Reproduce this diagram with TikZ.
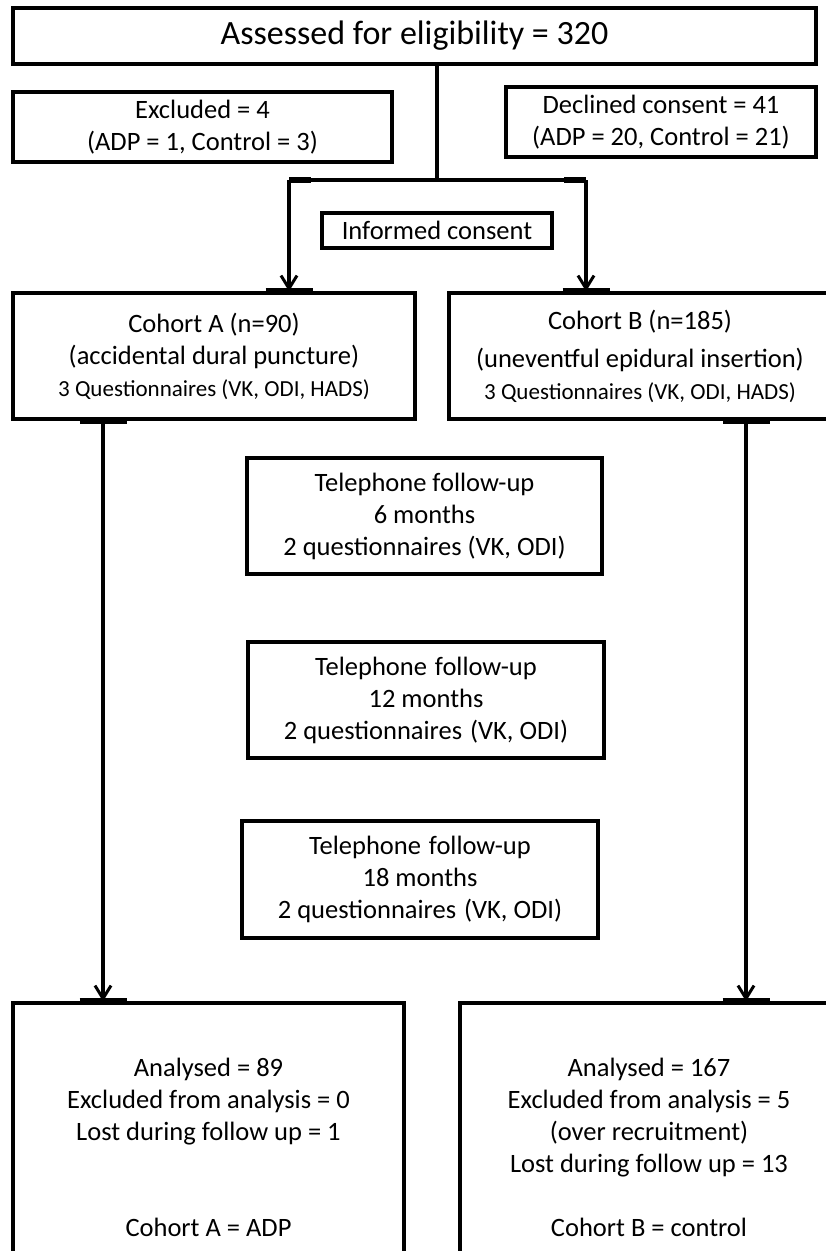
\documentclass[tikz,border=0pt]{standalone}
\usepackage{fontspec}
\setmainfont{Carlito}
\usetikzlibrary{arrows.meta,positioning}

\newcommand\qsize{\fontsize{23}{29}\selectfont}

\tikzset{
  box/.style={draw, line width=3.2pt, rectangle, align=center, inner sep=0pt,
    font=\fontsize{26.5}{32}\selectfont},
  link/.style={line width=3.2pt},
  arrow/.style={link, -{Straight Barb[length=13pt,width=16pt,line width=3pt]}},
  tick/.style={line width=6.5pt},
}

\begin{document}
\begin{tikzpicture}[x=1pt,y=-1pt]
\useasboundingbox (0,0) rectangle (826,1251);
\clip (0,0) rectangle (826,1251);

% Top of the chart
\node[box, minimum width=803pt, minimum height=56pt, font=\fontsize{34}{40}\selectfont]
  (assess) at (414.5,36) {Assessed for eligibility = 320};
\node[box, minimum width=379pt, minimum height=70pt] (excl) at (202.5,127)
  {Excluded = 4\\(ADP = 1, Control = 3)};
\node[box, minimum width=310pt, minimum height=70pt] (decl) at (661,122)
  {Declined consent = 41\\(ADP = 20, Control = 21)};
\node[box, minimum width=230pt, minimum height=35pt] (consent) at (437,230.5)
  {Informed consent};

% Cohorts
\node[box, minimum width=402pt, minimum height=126pt] (cohA) at (214,356)
  {Cohort A (n=90)\\(accidental dural puncture)\\{\qsize 3 Questionnaires (VK, ODI, HADS)}};
\node[box, minimum width=382pt, minimum height=126pt] (cohB) at (640,356)
  {Cohort B (n=185)\\[6pt](uneventful epidural insertion)\\{\qsize 3 Questionnaires (VK, ODI, HADS)}};

% Follow-up calls
\node[box, minimum width=355pt, minimum height=116pt] (tel6) at (424.5,516)
  {Telephone follow-up\\6 months\\2 questionnaires (VK, ODI)};
\node[box, minimum width=356pt, minimum height=116pt] (tel12) at (426,700)
  {Telephone\hspace{2pt} follow-up\\12 months\\2 questionnaires\hspace{2pt} (VK, ODI)};
\node[box, minimum width=356pt, minimum height=117pt] (tel18) at (420,879.5)
  {Telephone\hspace{2pt} follow-up\\18 months\\2 questionnaires\hspace{2pt} (VK, ODI)};

% Results
\node[box, minimum width=391pt, minimum height=288pt] (resA) at (208.5,1147)
  {Analysed = 89\\Excluded from analysis = 0\\Lost during follow up = 1\\[64pt]Cohort A = ADP};
\node[box, minimum width=378pt, minimum height=288pt] (resB) at (649,1147)
  {Analysed = 167\\Excluded from analysis = 5\\(over recruitment)\\Lost during follow up = 13\\[32pt]Cohort B = control};

% Connectors
\coordinate (splitM) at (437,180);
\coordinate (splitL) at (289,180);
\coordinate (splitR) at (586,180);
\coordinate (colA) at (103,0);
\coordinate (colB) at (746,0);

\draw[link] (assess.south -| splitM) -- (splitM);
\draw[link] (splitL) -- (splitR);
\draw[arrow] (splitL) -- (splitL |- cohA.north);
\draw[arrow] (splitR) -- (splitR |- cohB.north);
\draw[arrow] (colA |- cohA.south) -- (colA |- resA.north);
\draw[arrow] (colB |- cohB.south) -- (colB |- resB.north);

% Thick marks where the connectors meet the boxes
\foreach \cl/\nd in {splitL/cohA.north, splitR/cohB.north, colA/cohA.south,
                     colB/cohB.south, colA/resA.north, colB/resB.north} {
  \draw[tick] ([xshift=-23.5pt]\cl |- \nd) -- ([xshift=23.5pt]\cl |- \nd);
}
\draw[tick] (splitL) -- ++(22,0);
\draw[tick] (splitR) -- ++(-22,0);

\end{tikzpicture}
\end{document}
